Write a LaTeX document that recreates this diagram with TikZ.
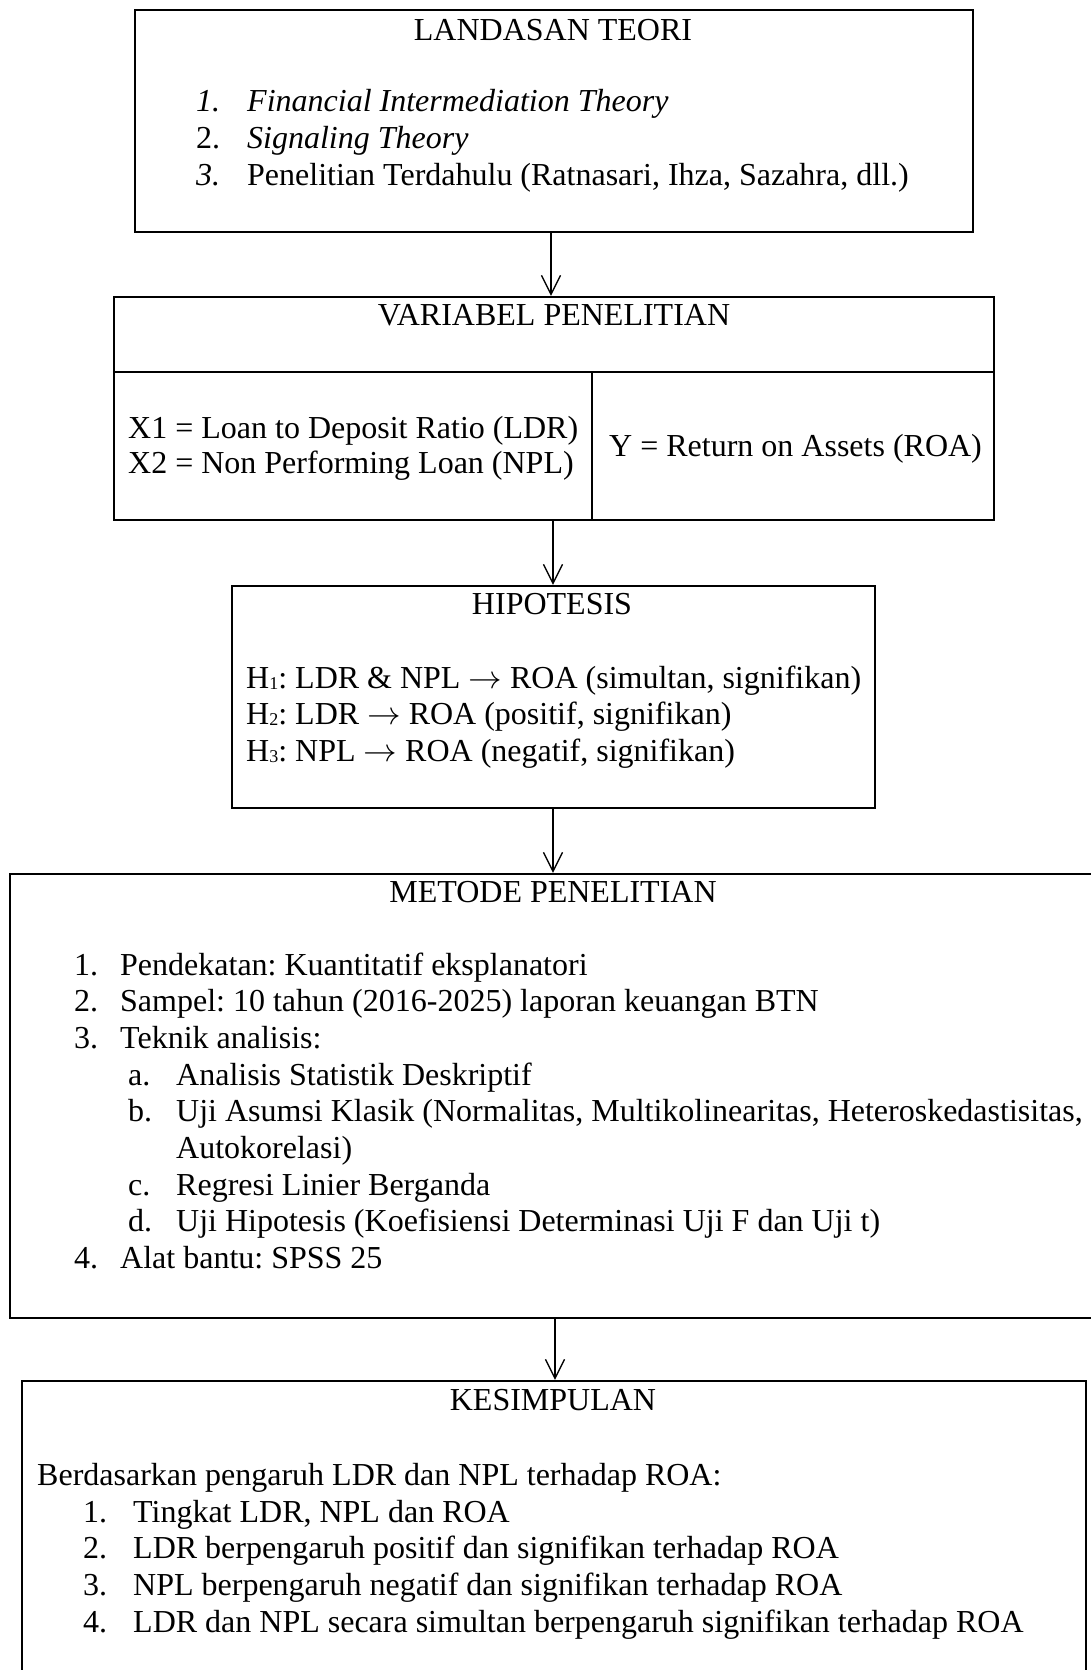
\documentclass[tikz,border=0pt]{standalone}
\usepackage{graphicx}
\usepackage{fontspec}
\setmainfont{Liberation Serif}
\usetikzlibrary{arrows.meta}
\frenchspacing
\newcommand{\hsub}[1]{\raisebox{-1.5pt}{\fontsize{18}{18}\selectfont #1}}
\newcommand{\rarr}{\raisebox{0pt}{\scalebox{1.35}[1.3]{\ensuremath{\rightarrow}}}}
\begin{document}
\begin{tikzpicture}[x=1pt,y=-1pt,
  frame/.style={draw, line width=2.2pt, rectangle, inner sep=0pt},
  txt/.style={anchor=base west, inner sep=0pt, font=\fontsize{32}{36.8}\selectfont},
  ctxt/.style={anchor=base, inner sep=0pt, font=\fontsize{32}{36.8}\selectfont},
  divline/.style={line width=2.2pt},
  arr/.style={line width=1.4pt, -{Straight Barb[length=19pt,width=19pt,line width=1.4pt]}}
]
\useasboundingbox (0,0) rectangle (1091,1670);
\clip (0,0) rectangle (1091,1670);
\fill[white] (0,0) rectangle (1091,1670);

% boxes
\node[frame, minimum width=838pt, minimum height=222pt] (b1) at (554,121) {};
\node[frame, minimum width=880pt, minimum height=223pt] (b2) at (554,408.5) {};
\node[frame, minimum width=643pt, minimum height=222pt] (b3) at (553.5,697) {};
\node[frame, minimum width=1090pt, minimum height=444pt] (b4) at (555,1096) {};
\node[frame, minimum width=1064pt, minimum height=309pt] (b5) at (554,1535.5) {};

% dividers in box 2
\coordinate (hdiv) at (0,372);
\coordinate (vdiv) at (592,0);
\draw[divline] (b2.west |- hdiv) -- (b2.east |- hdiv);
\draw[divline] (vdiv |- hdiv) -- (vdiv |- b2.south);

% arrows
\coordinate (ax1) at (551,0);
\coordinate (ax2) at (553,0);
\coordinate (ax3) at (553,0);
\coordinate (ax4) at (555,0);
\draw[arr] (b1.south -| ax1) -- (b2.north -| ax1);
\draw[arr] (b2.south -| ax2) -- (b3.north -| ax2);
\draw[arr] (b3.south -| ax3) -- (b4.north -| ax3);
\draw[arr] (b4.south -| ax4) -- (b5.north -| ax4);

% box 1 text
\node[ctxt] (t1) at (553,41) {LANDASAN TEORI};
\node[txt] (t1n1) at (196,111) {\textit{1.}};
\node[txt] (t1i1) at (247,111) {\textit{Financial Intermediation Theory}};
\node[txt] (t1n2) at (196,148) {2.};
\node[txt] (t1i2) at (247,148) {\textit{Signaling Theory}};
\node[txt] (t1n3) at (196,185) {\textit{3.}};
\node[txt] (t1i3) at (247,185) {Penelitian Terdahulu (Ratnasari, Ihza, Sazahra, dll.)};

% box 2 text
\node[ctxt] (t2) at (554,325) {VARIABEL PENELITIAN};
\node[txt] (t2x1) at (128,438) {X1 = Loan to Deposit Ratio (LDR)};
\node[txt] (t2x2) at (128,473) {X2 = Non Performing Loan (NPL)};
\node[txt] (t2y) at (609,456) {Y = Return on Assets (ROA)};

% box 3 text
\node[ctxt] (t3) at (552,614) {HIPOTESIS};
\node[txt] (t3h1) at (246,688) {H\hsub{1}: LDR \& NPL \rarr{} ROA (simultan, signifikan)};
\node[txt] (t3h2) at (246,724) {H\hsub{2}: LDR \rarr{} ROA (positif, signifikan)};
\node[txt] (t3h3) at (246,761) {H\hsub{3}: NPL \rarr{} ROA (negatif, signifikan)};

% box 4 text
\node[ctxt] (t4) at (553,902) {METODE PENELITIAN};
\node[txt] (t4n1) at (74,975) {1.};
\node[txt] (t4i1) at (120,975) {Pendekatan: Kuantitatif eksplanatori};
\node[txt] (t4n2) at (74,1011.7) {2.};
\node[txt] (t4i2) at (120,1011.7) {Sampel: 10 tahun (2016-2025) laporan keuangan BTN};
\node[txt] (t4n3) at (74,1048.4) {3.};
\node[txt] (t4i3) at (120,1048.4) {Teknik analisis:};
\node[txt] (t4na) at (128,1085.1) {a.};
\node[txt] (t4ia) at (176,1085.1) {Analisis Statistik Deskriptif};
\node[txt] (t4nb) at (128,1121.8) {b.};
\node[txt] (t4ib) at (176,1121.8) {Uji Asumsi Klasik (Normalitas, Multikolinearitas, Heteroskedastisitas,};
\node[txt] (t4ib2) at (176,1158.5) {Autokorelasi)};
\node[txt] (t4nc) at (128,1195.2) {c.};
\node[txt] (t4ic) at (176,1195.2) {Regresi Linier Berganda};
\node[txt] (t4nd) at (128,1231.9) {d.};
\node[txt] (t4id) at (176,1231.9) {Uji Hipotesis (Koefisiensi Determinasi Uji F dan Uji t)};
\node[txt] (t4n4) at (74,1268.6) {4.};
\node[txt] (t4i4) at (120,1268.6) {Alat bantu: SPSS 25};

% box 5 text
\node[ctxt] (t5) at (553,1410) {KESIMPULAN};
\node[txt] (t5b) at (37,1485) {Berdasarkan pengaruh LDR dan NPL terhadap ROA:};
\node[txt] (t5n1) at (83,1522) {1.};
\node[txt] (t5i1) at (133,1522) {Tingkat LDR, NPL dan ROA};
\node[txt] (t5n2) at (83,1558.5) {2.};
\node[txt] (t5i2) at (133,1558.5) {LDR berpengaruh positif dan signifikan terhadap ROA};
\node[txt] (t5n3) at (83,1595) {3.};
\node[txt] (t5i3) at (133,1595) {NPL berpengaruh negatif dan signifikan terhadap ROA};
\node[txt] (t5n4) at (83,1632) {4.};
\node[txt] (t5i4) at (133,1632) {LDR dan NPL secara simultan berpengaruh signifikan terhadap ROA};
\end{tikzpicture}
\end{document}
